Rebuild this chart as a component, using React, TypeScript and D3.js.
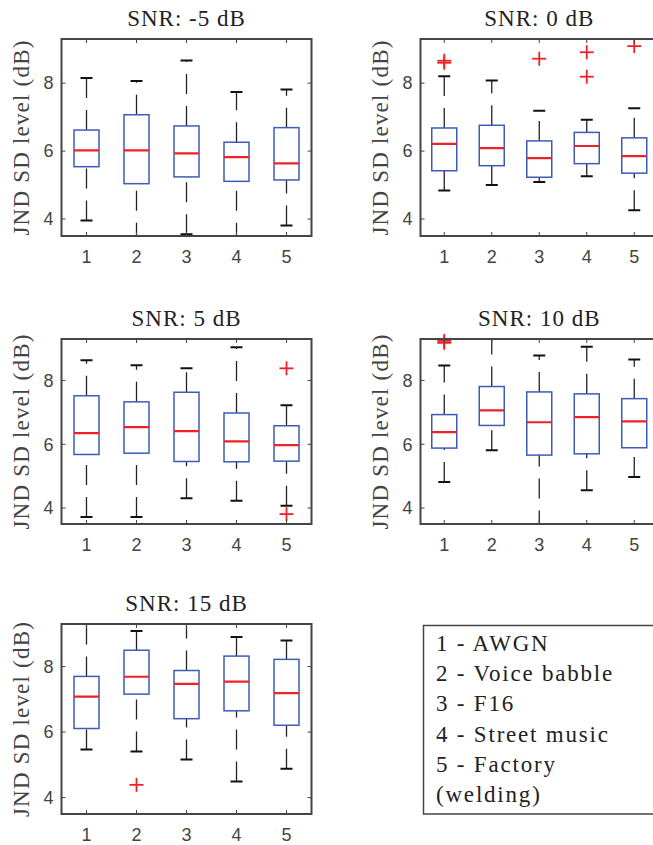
import React from 'react';
import * as d3 from 'd3';

// ---------- data ----------
const snrLevels = [-5, 0, 5, 10, 15];
const categories = [1, 2, 3, 4, 5];
const yTicks = [4, 6, 8];

// per SNR panel, per noise category
const whiskerLow = [
  [3.96, 3.3, 3.55, 3.3, 3.81],
  [4.84, 5.0, 5.09, 5.26, 4.26],
  [3.72, 3.72, 4.31, 4.23, 4.07],
  [4.82, 5.81, 3.3, 4.56, 4.97],
  [5.47, 5.41, 5.16, 4.49, 4.88],
];
const quartile1 = [
  [5.54, 5.04, 5.24, 5.11, 5.15],
  [5.42, 5.57, 5.23, 5.63, 5.35],
  [5.68, 5.72, 5.46, 5.45, 5.47],
  [5.88, 6.59, 5.66, 5.70, 5.89],
  [6.11, 7.16, 6.41, 6.65, 6.21],
];
const medians = [
  [6.02, 6.02, 5.93, 5.82, 5.64],
  [6.21, 6.09, 5.79, 6.15, 5.85],
  [6.35, 6.54, 6.41, 6.09, 5.97],
  [6.38, 7.06, 6.69, 6.85, 6.72],
  [7.08, 7.69, 7.47, 7.54, 7.19],
];
const quartile3 = [
  [6.62, 7.07, 6.74, 6.26, 6.69],
  [6.68, 6.76, 6.30, 6.55, 6.39],
  [7.52, 7.33, 7.63, 6.98, 6.58],
  [6.93, 7.81, 7.64, 7.58, 7.43],
  [7.70, 8.50, 7.88, 8.32, 8.22],
];
const whiskerHigh = [
  [8.15, 8.06, 8.67, 7.74, 7.81],
  [8.20, 8.08, 7.19, 6.92, 7.26],
  [8.63, 8.48, 8.38, 9.04, 7.22],
  [8.47, 9.5, 8.78, 9.06, 8.66],
  [9.5, 9.09, 9.5, 8.90, 8.80],
];
// outliers: [category, value]
const outliers = [
  [],
  [[1, 8.66], [1, 8.60], [3, 8.72], [4, 8.91], [4, 8.19], [5, 9.09]],
  [[5, 8.38], [5, 3.81]],
  [[1, 9.24], [1, 9.18]],
  [[2, 4.39]],
];
const legendLabels = [
  '1 - AWGN',
  '2 - Voice babble',
  '3 - F16',
  '4 - Street music',
  '5 - Factory',
  '(welding)',
];

// ---------- layout ----------
const W = 653;
const H = 845;
const cols = [
  { x0: 61.5, x1: 311.5 },
  { x0: 420.5, x1: 658 },
];
const rows = [
  { y0: 39, y1: 236 },
  { y0: 339, y1: 524 },
  { y0: 624, y1: 814 },
];
const yDomain: [number, number] = [3.5, 9.3];

const axisColor = '#454545';
const boxColor = '#3d5cb8';
const redColor = '#ec2228';
const serifFont = 'Liberation Serif, Times New Roman, serif';
const sansFont = 'Liberation Sans, Arial, sans-serif';

function Panel({ idx }: { idx: number }) {
  const col = cols[idx % 2];
  const row = rows[Math.floor(idx / 2)];
  const x = d3.scaleLinear().domain([0.5, 5.5]).range([col.x0, col.x1]);
  const y = d3.scaleLinear().domain(yDomain).range([row.y1, row.y0]);
  const clipId = `clip-${idx}`;
  const half = 12.5;
  const capHalf = 6;
  const tickLen = 4;
  return (
    <g>
      <defs>
        <clipPath id={clipId}>
          <rect x={col.x0} y={row.y0} width={col.x1 - col.x0} height={row.y1 - row.y0} />
        </clipPath>
      </defs>
      <text
        x={(col.x0 + col.x1) / 2}
        y={row.y0 - 13}
        textAnchor="middle"
        fontFamily={serifFont}
        fontSize={23}
        letterSpacing={1}
        fill="#222"
      >
        {`SNR: ${snrLevels[idx]} dB`}
      </text>
      <text
        transform={`translate(${col.x0 - 33},${(row.y0 + row.y1) / 2}) rotate(-90)`}
        textAnchor="middle"
        fontFamily={serifFont}
        fontSize={23}
        letterSpacing={1.2}
        fill="#444"
      >
        JND SD level (dB)
      </text>
      <g clipPath={`url(#${clipId})`}>
        {categories.map((c, i) => {
          const cx = x(c);
          const lo = whiskerLow[idx][i];
          const hi = whiskerHigh[idx][i];
          const q1 = quartile1[idx][i];
          const q3 = quartile3[idx][i];
          const md = medians[idx][i];
          return (
            <g key={c}>
              <line x1={cx} x2={cx} y1={y(q3)} y2={y(hi)} stroke="#222" strokeWidth={1.3} strokeDasharray="20 12" />
              <line x1={cx} x2={cx} y1={y(lo)} y2={y(q1)} stroke="#222" strokeWidth={1.3} strokeDasharray="20 12" />
              <line x1={cx - capHalf} x2={cx + capHalf} y1={y(hi)} y2={y(hi)} stroke="#111" strokeWidth={2} />
              <line x1={cx - capHalf} x2={cx + capHalf} y1={y(lo)} y2={y(lo)} stroke="#111" strokeWidth={2} />
              <rect x={cx - half} y={y(q3)} width={half * 2} height={y(q1) - y(q3)} fill="none" stroke={boxColor} strokeWidth={1.5} />
              <line x1={cx - half} x2={cx + half} y1={y(md)} y2={y(md)} stroke={redColor} strokeWidth={2.2} />
            </g>
          );
        })}
      </g>
      {outliers[idx].map(([c, v], k) => (
        <g key={k} stroke={redColor} strokeWidth={1.8}>
          <line x1={x(c) - 7} x2={x(c) + 7} y1={y(v)} y2={y(v)} />
          <line x1={x(c)} x2={x(c)} y1={y(v) - 7} y2={y(v) + 7} />
        </g>
      ))}
      {categories.map((c) => (
        <g key={`xt${c}`}>
          <line x1={x(c)} x2={x(c)} y1={row.y1} y2={row.y1 - tickLen} stroke={axisColor} strokeWidth={1} />
          <line x1={x(c)} x2={x(c)} y1={row.y0} y2={row.y0 + tickLen} stroke={axisColor} strokeWidth={1} />
          <text x={x(c)} y={row.y1 + 27} textAnchor="middle" fontFamily={sansFont} fontSize={18} fill="#444">
            {c}
          </text>
        </g>
      ))}
      {yTicks.map((t) => (
        <g key={`yt${t}`}>
          <line x1={col.x0} x2={col.x0 + tickLen} y1={y(t)} y2={y(t)} stroke={axisColor} strokeWidth={1} />
          <line x1={col.x1} x2={col.x1 - tickLen} y1={y(t)} y2={y(t)} stroke={axisColor} strokeWidth={1} />
          <text x={col.x0 - 8} y={y(t)} dy="0.35em" textAnchor="end" fontFamily={sansFont} fontSize={18} fill="#444">
            {t}
          </text>
        </g>
      ))}
      <rect x={col.x0} y={row.y0} width={col.x1 - col.x0} height={row.y1 - row.y0} fill="none" stroke={axisColor} strokeWidth={2} />
    </g>
  );
}

export default function App() {
  const legendLine = d3.scaleLinear().domain([0, 5]).range([651, 802]);
  return (
    <svg width={W} height={H} viewBox={`0 0 ${W} ${H}`} style={{ position: 'absolute', left: 0, top: 0 }}>
      <rect x={0} y={0} width={W} height={H} fill="#fff" />
      {snrLevels.map((_, i) => (
        <Panel key={i} idx={i} />
      ))}
      <rect x={423.5} y={625.5} width={240} height={188.5} fill="#fff" stroke="#444" strokeWidth={1.5} />
      {legendLabels.map((l, i) => (
        <text key={i} x={436} y={legendLine(i)} fontFamily={serifFont} fontSize={23} letterSpacing={1.8} fill="#222">
          {l}
        </text>
      ))}
    </svg>
  );
}
